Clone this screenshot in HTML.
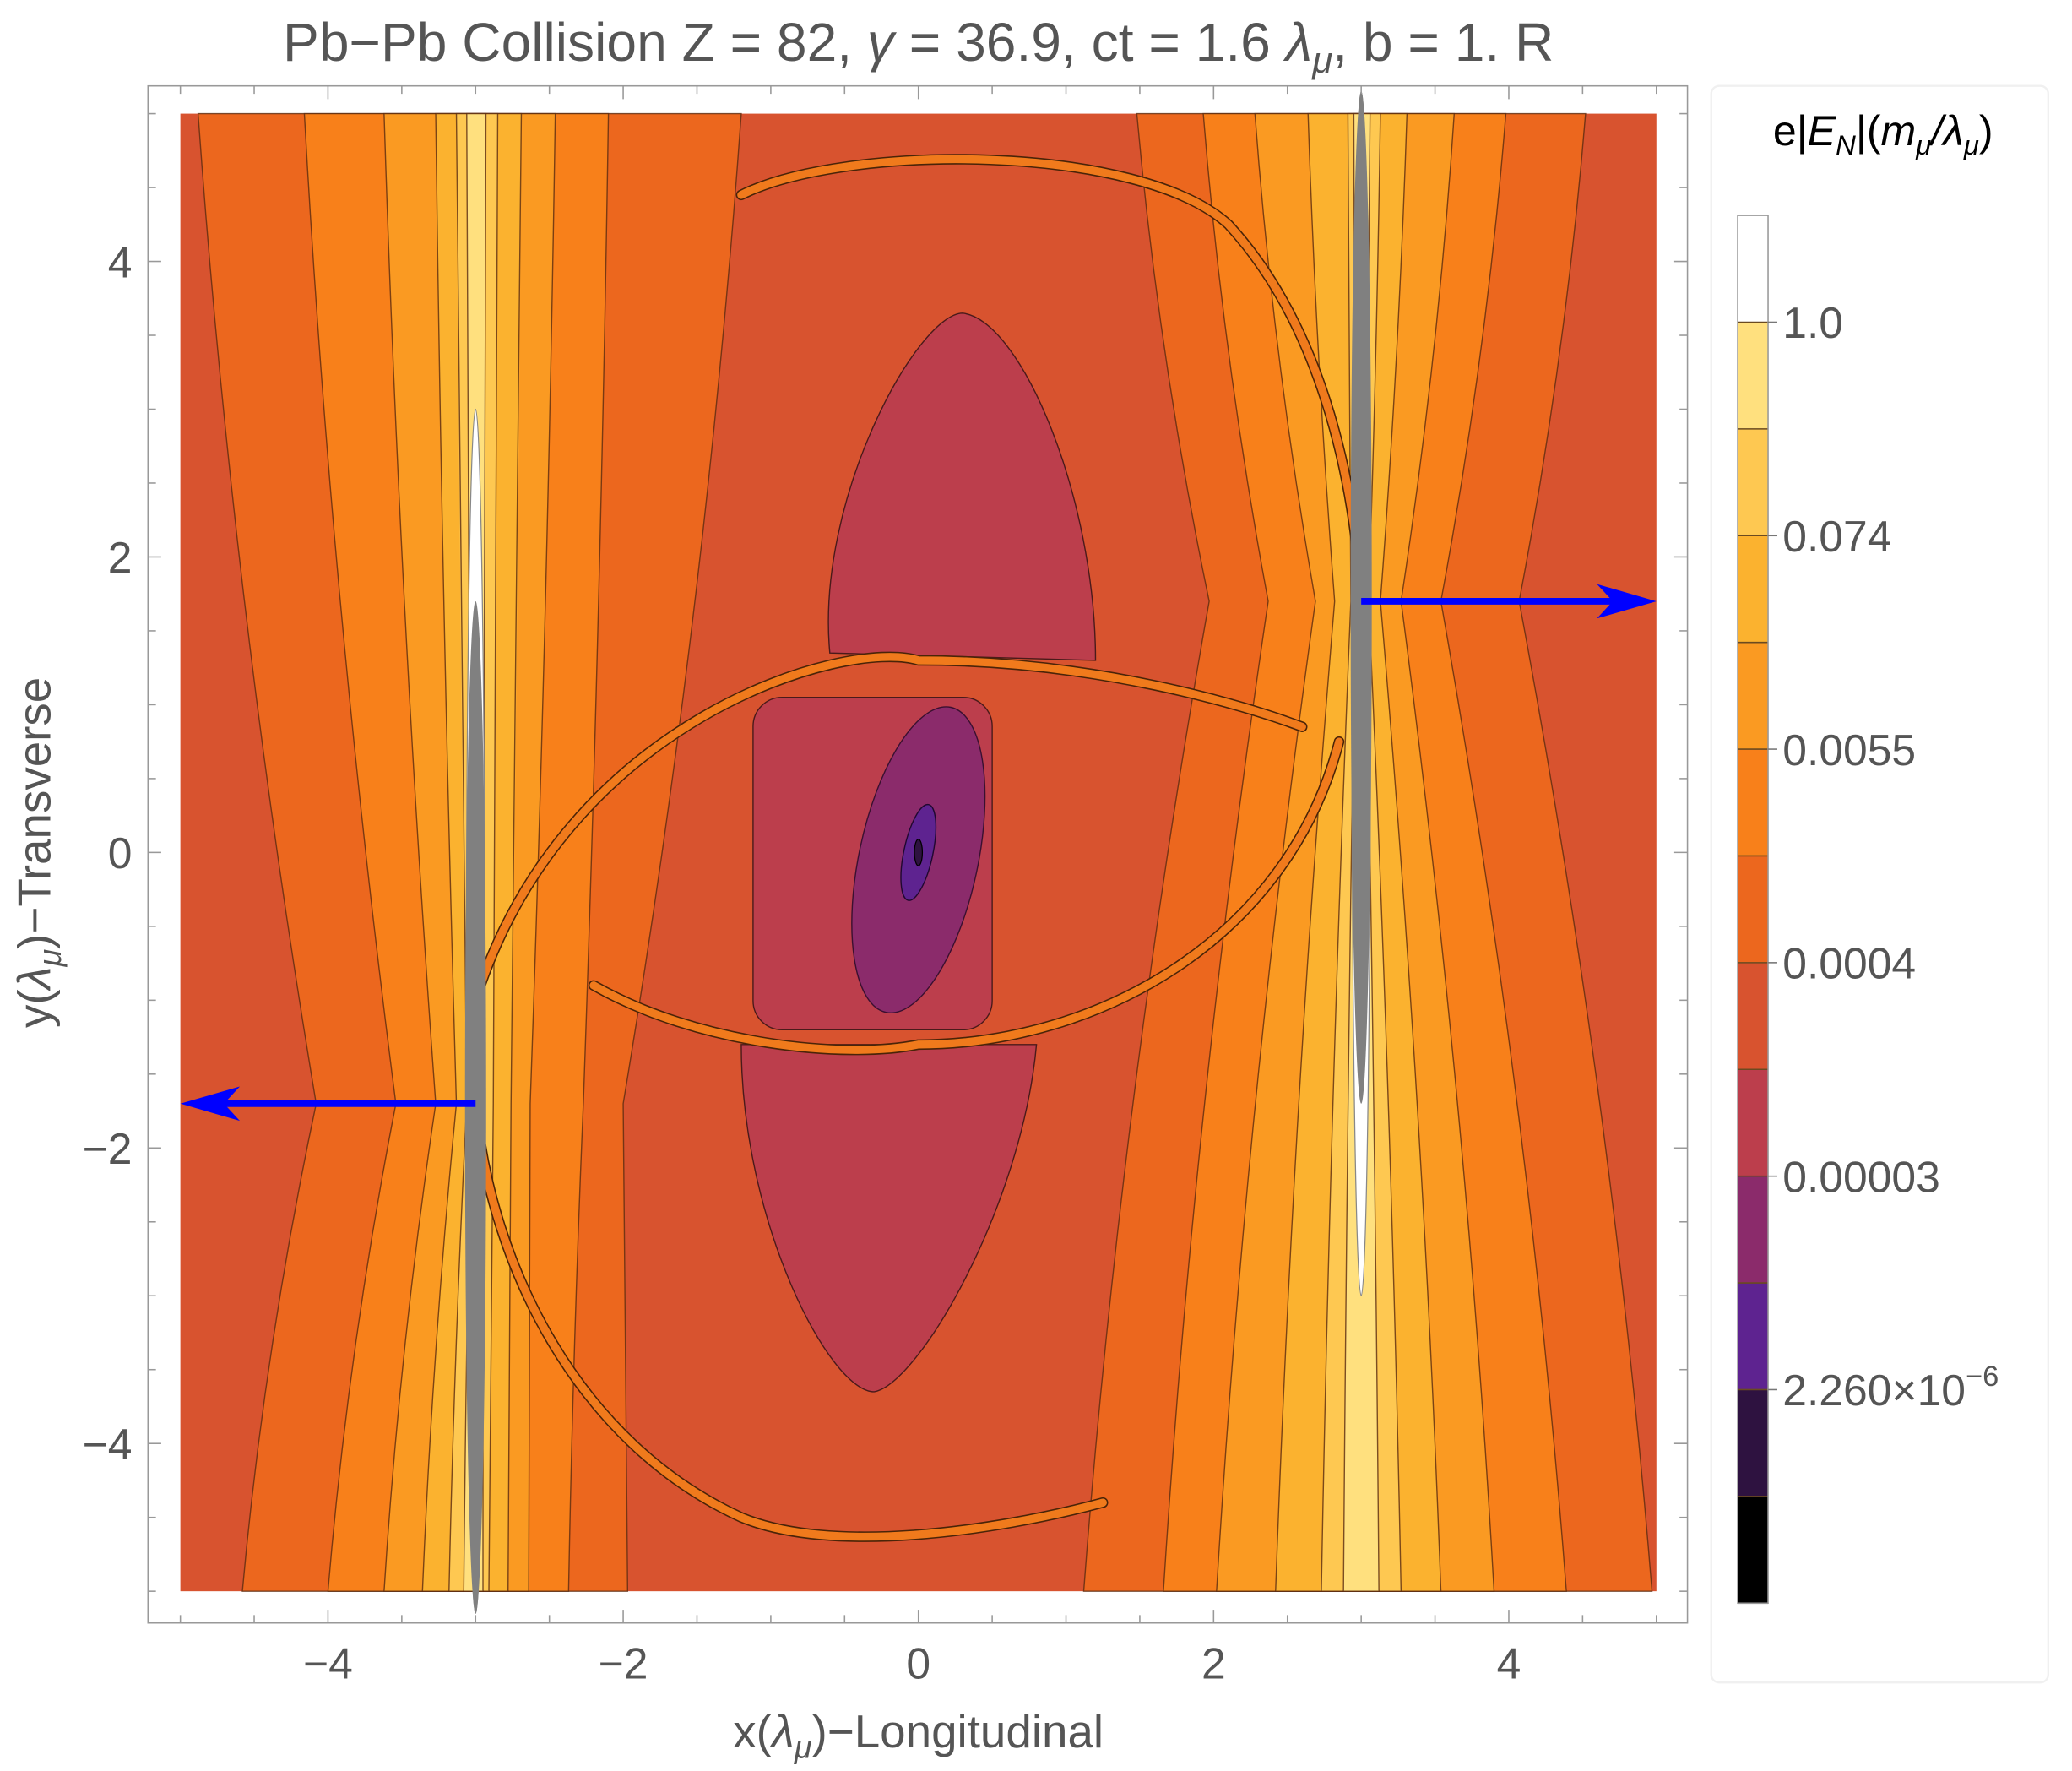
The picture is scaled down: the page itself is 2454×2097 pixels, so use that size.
<!DOCTYPE html>
<html><head><meta charset="utf-8"><style>
html,body{margin:0;padding:0;background:#fff;}
svg{display:block;}
text{font-family:"Liberation Sans",sans-serif;}
</style></head><body>
<svg id="chart" width="2454" height="2097" viewBox="0 0 1568 1340" preserveAspectRatio="none" xmlns="http://www.w3.org/2000/svg">
<text x="695" y="46" font-size="41" fill="#555" text-anchor="middle">Pb−Pb Collision Z = 82, <tspan font-style="italic">γ</tspan> = 36.9, ct = 1.6 <tspan font-style="italic">λ</tspan><tspan font-size="28" dy="9" font-style="italic">μ</tspan><tspan dy="-9">, b = 1. R</tspan></text>
<g id="plot"></g>
<g id="axes"></g>
<g id="cbar"></g>
</svg>
<script>
const xTicks=[-4,-2,0,2,4];
const yTicks=[-4,-2,0,2,4];
const bandColors=["#EC671E","#F8801A","#FA9A22","#FBB22F","#FEC851","#FFE07E"];
// left particle (cx=-3, yp=-1.7): offsets outward/inward at top, yp, bottom
const leftOutTop=[1.88,1.16,0.62,0.27,0.13,0.06];
const leftOutMid=[1.08,0.54,0.27,0.13,0.06,0.03];
const leftOutBot=[1.58,1.0,0.62,0.36,0.18,0.08];
const leftInTop=[1.8,0.9,0.54,0.31,0.15,0.07];
const leftInMid=[1.0,0.73,0.37,0.24,0.12,0.05];
const leftInBot=[1.03,0.63,0.36,0.22,0.09,0.05];
// right particle (cx=3, yp=1.7)
const rightOutTop=[1.52,0.98,0.63,0.31,0.13,0.06];
const rightOutMid=[1.07,0.54,0.27,0.13,0.05,0.03];
const rightOutBot=[1.97,1.39,0.9,0.54,0.27,0.12];
const rightInTop=[1.52,1.07,0.72,0.36,0.09,0.05];
const rightInMid=[1.03,0.63,0.31,0.18,0.07,0.04];
const rightInBot=[1.88,1.34,0.98,0.58,0.27,0.12];
const cbarColors=["#FFFFFF","#FFE07E","#FEC851","#FBB22F","#FA9A22","#F8801A","#EC671E","#D8532F","#BC3E4C","#8B2B6B","#5E2390","#2E1240","#000000"];
const cbarLabels=[["1.0",1],["0.074",3],["0.0055",5],["0.0004",7],["0.00003",9],["2.260×10",11]];

const NS="http://www.w3.org/2000/svg";
const X=x=>695+111.7*x, Y=y=>645-111.8*y;
function mk(tag,attrs,parent){const e=document.createElementNS(NS,tag);for(const k in attrs)e.setAttribute(k,attrs[k]);parent.appendChild(e);return e;}
const plot=document.getElementById('plot'), axes=document.getElementById('axes'), cb=document.getElementById('cbar');

let bg=mk('rect',{x:X(-5),y:Y(5),width:X(5)-X(-5),height:Y(-5)-Y(5),fill:"#D8532F",stroke:"none"},plot);



function band(cx,yp,dir,oT,oM,oB,iT,iM,iB,name){
  for(let i=0;i<bandColors.length;i++){
    const a=[cx+dir*oT[i],cx+dir*oM[i],cx+dir*oB[i]];
    const b=[cx-dir*iT[i],cx-dir*iM[i],cx-dir*iB[i]];
    const d=`M${X(a[0])},${Y(5)} Q${X(a[0]+(a[1]-a[0])*0.3)},${Y((5+yp)/2)} ${X(a[1])},${Y(yp)} Q${X(a[2]+(a[1]-a[2])*0.3)},${Y((yp-5)/2)} ${X(a[2])},${Y(-5)} L${X(b[2])},${Y(-5)} Q${X(b[2]+(b[1]-b[2])*0.3)},${Y((yp-5)/2)} ${X(b[1])},${Y(yp)} Q${X(b[0]+(b[1]-b[0])*0.3)},${Y((5+yp)/2)} ${X(b[0])},${Y(5)} Z`;
    const p=mk('path',{d:d,fill:bandColors[i],stroke:"#5a2a10","stroke-width":0.9,"stroke-opacity":0.8},plot);
    
    
  }
}
band(-3,-1.7,-1,leftOutTop,leftOutMid,leftOutBot,leftInTop,leftInMid,leftInBot,'left-charge');
band(3,1.7,1,rightOutTop,rightOutMid,rightOutBot,rightInTop,rightInMid,rightInBot,'right-charge');

const st={fill:"#BC3E4C",stroke:"#4a1a1a","stroke-width":0.9};
let r1=mk('path',Object.assign({d:`M${X(-0.6)},${Y(1.35)} C${X(-0.7)},${Y(2.4)} ${X(0)},${Y(3.65)} ${X(0.3)},${Y(3.65)} C${X(0.7)},${Y(3.6)} ${X(1.2)},${Y(2.4)} ${X(1.2)},${Y(1.3)} Z`},st),plot);

let r2=mk('path',Object.assign({d:`M${X(-1.2)},${Y(-1.3)} C${X(-1.2)},${Y(-2.5)} ${X(-0.6)},${Y(-3.65)} ${X(-0.3)},${Y(-3.65)} C${X(0)},${Y(-3.6)} ${X(0.7)},${Y(-2.4)} ${X(0.8)},${Y(-1.3)} Z`},st),plot);

let r3=mk('rect',Object.assign({x:X(-1.12),y:Y(1.05),width:X(0.5)-X(-1.12),height:Y(-1.2)-Y(1.05),rx:22},st),plot);

let e1=mk('ellipse',{cx:X(0),cy:Y(-0.05),rx:45,ry:118,fill:"#8B2B6B",stroke:"#3a1030","stroke-width":0.9,transform:`rotate(12 ${X(0)} ${Y(-0.05)})`},plot);

let e2=mk('ellipse',{cx:X(0),cy:Y(0),rx:11,ry:37,fill:"#5E2390",stroke:"#200830","stroke-width":0.9,transform:`rotate(12 ${X(0)} ${Y(0)})`},plot);

let e3=mk('ellipse',{cx:X(0),cy:Y(0),rx:3,ry:10,fill:"#2E1240",stroke:"#000","stroke-width":0.8},plot);


const arcs=[
 `M${X(-3)},${Y(-1.0)} C${X(-2.4)},${Y(0.9)} ${X(-0.5)},${Y(1.45)} ${X(0)},${Y(1.3)} C${X(1.2)},${Y(1.3)} ${X(2.2)},${Y(1.0)} ${X(2.6)},${Y(0.85)}`,
 `M${X(-2.2)},${Y(-0.9)} C${X(-1.5)},${Y(-1.3)} ${X(-0.5)},${Y(-1.4)} ${X(0)},${Y(-1.3)} C${X(1.2)},${Y(-1.3)} ${X(2.5)},${Y(-0.6)} ${X(2.85)},${Y(0.75)}`,
 `M${X(-1.2)},${Y(4.45)} C${X(-0.5)},${Y(4.8)} ${X(1.5)},${Y(4.8)} ${X(2.1)},${Y(4.25)} C${X(2.7)},${Y(3.6)} ${X(2.95)},${Y(2.6)} ${X(3)},${Y(1.7)}`,
 `M${X(-3)},${Y(-1.7)} C${X(-2.9)},${Y(-2.8)} ${X(-2.3)},${Y(-4.0)} ${X(-1.2)},${Y(-4.5)} C${X(-0.6)},${Y(-4.75)} ${X(0.5)},${Y(-4.6)} ${X(1.25)},${Y(-4.4)}`
];
arcs.forEach((d,i)=>{
  const o=mk('path',{d:d,fill:"none",stroke:"#4a2408","stroke-width":8,"stroke-linecap":"round"},plot);
  
  const a=mk('path',{d:d,fill:"none",stroke:"#F07A1C","stroke-width":6,"stroke-linecap":"round"},plot);
  
});

function charge(cx,cy,wTop,wBot,gTop,gBot,name){
  const w=mk('ellipse',{cx:X(cx),cy:(Y(wTop)+Y(wBot))/2,rx:7,ry:(Y(wBot)-Y(wTop))/2,fill:"#fff",stroke:"#888","stroke-width":0.8},plot);
  
  const g=mk('ellipse',{cx:X(cx),cy:(Y(gTop)+Y(gBot))/2,rx:8,ry:(Y(gBot)-Y(gTop))/2,fill:"#808080"},plot);
  
}
charge(-3,-1.7,3.0,-5.15,1.7,-5.15,'left-nucleus');
charge(3,1.7,5.15,-3.0,5.15,-1.7,'right-nucleus');

function arrow(x0,x1,y,name){
  const dir=Math.sign(x1-x0);
  const l=mk('line',{x1:X(x0),y1:Y(y),x2:X(x1)-dir*30,y2:Y(y),stroke:"#0000FF","stroke-width":5},plot);
  
  const h=mk('path',{d:`M${X(x1)},${Y(y)} L${X(x1)-dir*45},${Y(y)-13} L${X(x1)-dir*33},${Y(y)} L${X(x1)-dir*45},${Y(y)+13} Z`,fill:"#0000FF"},plot);
  
}
arrow(3,5,1.7,'right-velocity-arrow');
arrow(-3,-5,-1.7,'left-velocity-arrow');

const fr=mk('rect',{x:112,y:65,width:1165,height:1163,fill:"none",stroke:"#999","stroke-width":1},axes);

for(let v=-5;v<=5.001;v+=0.5){
  const major=Math.abs(v-Math.round(v/2)*2)<1e-6;
  const len=major?10:6;
  mk('line',{x1:X(v),y1:1228,x2:X(v),y2:1228-len,stroke:"#999"},axes);
  mk('line',{x1:X(v),y1:65,x2:X(v),y2:65+len,stroke:"#999"},axes);
  mk('line',{x1:112,y1:Y(v),x2:112+len,y2:Y(v),stroke:"#999"},axes);
  mk('line',{x1:1277,y1:Y(v),x2:1277-len,y2:Y(v),stroke:"#999"},axes);
}
xTicks.forEach(v=>{const t=mk('text',{x:X(v),y:1270,"font-size":33,fill:"#555","text-anchor":"middle"},axes);t.textContent=v<0?'−'+(-v):String(v);
});
yTicks.forEach(v=>{const t=mk('text',{x:100,y:Y(v)+12,"font-size":33,fill:"#555","text-anchor":"end"},axes);t.textContent=v<0?'−'+(-v):String(v);
});
const xt=mk('text',{x:695,y:1322,"font-size":35,fill:"#555","text-anchor":"middle"},axes);
xt.innerHTML='x(<tspan font-style="italic">λ</tspan><tspan font-size="24" dy="8" font-style="italic">μ</tspan><tspan dy="-8">)−Longitudinal</tspan>';

const yt=mk('text',{x:0,y:0,"font-size":35,fill:"#555","text-anchor":"middle",transform:"translate(38,645) rotate(-90)"},axes);
yt.innerHTML='y(<tspan font-style="italic">λ</tspan><tspan font-size="24" dy="8" font-style="italic">μ</tspan><tspan dy="-8">)−Transverse</tspan>';


const cbBox=mk('rect',{x:1295,y:65,width:255,height:1208,fill:"none",stroke:"#f0f0f0","stroke-width":1.5,rx:6},cb);

const ct=mk('text',{x:1425,y:110,"font-size":32,fill:"#000","text-anchor":"middle"},cb);
ct.innerHTML='e|<tspan font-style="italic">E</tspan><tspan font-size="21" dy="7" font-style="italic">N</tspan><tspan dy="-7">|(</tspan><tspan font-style="italic">m</tspan><tspan font-size="21" dy="7" font-style="italic">μ</tspan><tspan dy="-7" font-style="italic">/λ</tspan><tspan font-size="21" dy="7" font-style="italic">μ</tspan><tspan dy="-7">)</tspan>';

const cbTop=163, cbH=(1213-163)/cbarColors.length;
cbarColors.forEach((c,i)=>{const r=mk('rect',{x:1315,y:cbTop+i*cbH,width:23,height:cbH+0.5,fill:c},cb);

if(i>0) mk('line',{x1:1315,y1:cbTop+i*cbH,x2:1338,y2:cbTop+i*cbH,stroke:"#6a4a20","stroke-width":1},cb);});
mk('rect',{x:1315,y:cbTop,width:23,height:1213-cbTop,fill:"none",stroke:"#999","stroke-width":1},cb);
cbarLabels.forEach(([s,i])=>{const yy=cbTop+i*cbH;
mk('line',{x1:1338,y1:yy,x2:1345,y2:yy,stroke:"#777"},cb);
const t=mk('text',{x:1349,y:yy+12,"font-size":33,fill:"#555"},cb);t.textContent=s;
if(s.indexOf('×')>=0){const sp=mk('tspan',{"font-size":22,dy:-15},t);sp.textContent='−6';}
});
</script>
</body></html>
